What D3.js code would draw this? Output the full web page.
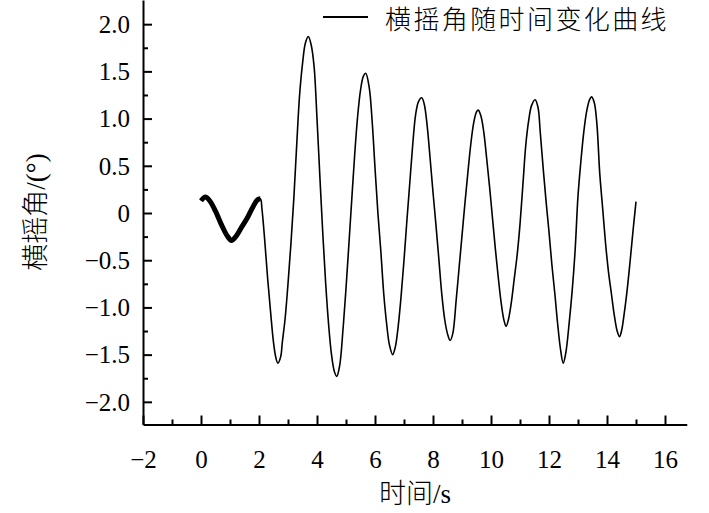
<!DOCTYPE html>
<html>
<head>
<meta charset="utf-8">
<script src="https://cdn.jsdelivr.net/npm/d3@7"></script>
<style>
  html, body { margin: 0; padding: 0; background: #fff; }
  svg { display: block; }
  .serif { font-family: "Liberation Serif", "DejaVu Serif", serif; }
  .cjk { font-family: "Liberation Serif", "DejaVu Serif", "Noto Sans CJK SC", serif; }
</style>
</head>
<body>
<svg id="chart" width="709" height="513"></svg>
<script>
// 横摇角の時系列
const timeS = [
  0, 0.15, 0.3, 0.5, 0.7, 0.9, 1.05, 1.2, 1.4, 1.6, 1.8, 1.95, 2.05,
  2.1, 2.2, 2.3, 2.4, 2.5, 2.58, 2.65, 2.75,
  2.8, 2.9, 3.0, 3.1, 3.2, 3.3, 3.4, 3.5, 3.6, 3.7, 3.8,
  3.9, 4.0, 4.1, 4.2, 4.3, 4.4, 4.5, 4.6, 4.68, 4.78,
  4.9, 5.0, 5.1, 5.2, 5.3, 5.4, 5.5, 5.6, 5.68, 5.8,
  5.9, 6.0, 6.1, 6.2, 6.3, 6.4, 6.5, 6.61, 6.7,
  6.8, 6.9, 7.0, 7.1, 7.2, 7.3, 7.4, 7.5, 7.61, 7.7,
  7.8, 7.9, 8.0, 8.1, 8.2, 8.3, 8.4, 8.5, 8.59, 8.68,
  8.8, 8.9, 9.0, 9.1, 9.2, 9.3, 9.4, 9.5, 9.56, 9.65,
  9.75, 9.85, 9.95, 10.05, 10.15, 10.25, 10.35, 10.45, 10.52, 10.6,
  10.7, 10.8, 10.9, 11.0, 11.1, 11.2, 11.3, 11.4, 11.52, 11.62,
  11.7, 11.8, 11.9, 12.0, 12.1, 12.2, 12.3, 12.4, 12.49, 12.58,
  12.7, 12.8, 12.9, 13.0, 13.1, 13.2, 13.3, 13.4, 13.47, 13.56,
  13.65, 13.75, 13.85, 13.95, 14.05, 14.15, 14.25, 14.35, 14.43, 14.5,
  14.6, 14.7, 14.8, 14.9, 15.0
];
const rollDeg = [
  0.13, 0.17, 0.13, 0.02, -0.12, -0.24, -0.29, -0.25, -0.15, -0.05, 0.07, 0.14, 0.15,
  0.05, -0.30, -0.70, -1.05, -1.37, -1.53, -1.59, -1.52,
  -1.38, -1.12, -0.75, -0.33, 0.15, 0.72, 1.25, 1.58, 1.80, 1.87, 1.78,
  1.55, 1.00, 0.38, -0.22, -0.75, -1.18, -1.50, -1.68, -1.73, -1.62,
  -1.22, -0.80, -0.33, 0.15, 0.62, 1.02, 1.30, 1.45, 1.48, 1.33,
  0.98, 0.48, 0.00, -0.40, -0.85, -1.17, -1.40, -1.50, -1.42,
  -1.20, -0.88, -0.50, -0.08, 0.32, 0.72, 1.04, 1.18, 1.22, 1.15,
  0.92, 0.58, 0.22, -0.12, -0.48, -0.85, -1.12, -1.28, -1.35, -1.28,
  -0.92, -0.58, -0.24, 0.10, 0.42, 0.72, 0.95, 1.07, 1.09, 1.03,
  0.86, 0.58, 0.28, -0.05, -0.38, -0.68, -0.95, -1.14, -1.20, -1.13,
  -0.95, -0.70, -0.45, -0.12, 0.30, 0.72, 0.98, 1.14, 1.20, 1.12,
  0.85, 0.47, 0.12, -0.20, -0.55, -0.85, -1.18, -1.45, -1.59, -1.48,
  -1.15, -0.82, -0.40, 0.18, 0.55, 0.86, 1.08, 1.20, 1.23, 1.17,
  0.95, 0.42, 0.05, -0.32, -0.62, -0.85, -1.08, -1.25, -1.31, -1.25,
  -1.05, -0.80, -0.50, -0.18, 0.12
];

// 目盛り
const xTicks = [-2, 0, 2, 4, 6, 8, 10, 12, 14, 16];
const xMinorTicks = [-1, 1, 3, 5, 7, 9, 11, 13, 15];
const yTicks = [-2.0, -1.5, -1.0, -0.5, 0, 0.5, 1.0, 1.5, 2.0];
const yMinorTicks = [-1.75, -1.25, -0.75, -0.25, 0.25, 0.75, 1.25, 1.75];

const legendLabel = '横摇角随时间变化曲线';
const xTitle = '时间/s';
const yTitle = '横摇角/(°)';

const svg = d3.select('#chart');

const x = d3.scaleLinear().domain([-2, 16.75]).range([143, 686.75]);
const y = d3.scaleLinear().domain([-2.24, 2.256]).range([424.5, 0]);

const fmtY = (v) => (v === 0 ? '0' : d3.format('.1f')(v).replace('-', '\u2212'));
const fmtX = (v) => String(v).replace('-', '\u2212');

// 軸（内向き目盛り）
const xAxis = svg.append('g')
  .attr('transform', `translate(0,${y(-2.24)})`)
  .call(d3.axisBottom(x).tickValues(xTicks).tickSizeInner(-9).tickSizeOuter(0)
    .tickPadding(26).tickFormat(fmtX));
svg.append('g')
  .attr('transform', `translate(0,${y(-2.24)})`)
  .call(d3.axisBottom(x).tickValues(xMinorTicks).tickSizeInner(-5).tickSizeOuter(0)
    .tickFormat(''))
  .call((g) => g.select('.domain').remove());

const yAxis = svg.append('g')
  .attr('transform', `translate(${x(-2)},0)`)
  .call(d3.axisLeft(y).tickValues(yTicks).tickSizeInner(-9).tickSizeOuter(0)
    .tickPadding(13).tickFormat(fmtY));
svg.append('g')
  .attr('transform', `translate(${x(-2)},0)`)
  .call(d3.axisLeft(y).tickValues(yMinorTicks).tickSizeInner(-5).tickSizeOuter(0)
    .tickFormat(''))
  .call((g) => g.select('.domain').remove());

svg.selectAll('.domain').attr('stroke', '#000').attr('stroke-width', 2);
svg.selectAll('.tick line').attr('stroke', '#000').attr('stroke-width', 2);

// d3.axis が g に sans-serif を付けるので、CSS クラスで上書き
svg.selectAll('g').attr('font-family', null);
xAxis.selectAll('.tick text')
  .attr('class', 'serif').attr('font-size', 25).attr('fill', '#000')
  .attr('dy', '0.71em');
yAxis.selectAll('.tick text')
  .attr('class', 'serif').attr('font-size', 25).attr('fill', '#000')
  .attr('dy', '0.33em');

// 曲線
const pts = timeS.map((t, i) => ({ t, v: rollDeg[i] }));
const line = d3.line()
  .x((d) => x(d.t))
  .y((d) => y(d.v))
  .curve(d3.curveCatmullRom.alpha(0.5));

svg.append('path')
  .datum(pts)
  .attr('d', line)
  .attr('fill', 'none')
  .attr('stroke', '#000')
  .attr('stroke-width', 1.6)
  .attr('stroke-linejoin', 'round');

// 最初の2秒はノイズで太く見える
svg.append('path')
  .datum(pts.filter((d) => d.t <= 2.05))
  .attr('d', line)
  .attr('fill', 'none')
  .attr('stroke', '#000')
  .attr('stroke-width', 5)
  .attr('stroke-linejoin', 'round');

// 軸タイトル
svg.append('text')
  .attr('class', 'cjk')
  .attr('x', 415).attr('y', 503)
  .attr('text-anchor', 'middle')
  .attr('font-size', 27).attr('font-weight', 300)
  .text(xTitle);

svg.append('text')
  .attr('class', 'cjk')
  .attr('transform', 'translate(45,212) rotate(-90)')
  .attr('text-anchor', 'middle')
  .attr('font-size', 27).attr('font-weight', 300)
  .text(yTitle);

// 凡例
svg.append('line')
  .attr('x1', 323).attr('x2', 368).attr('y1', 17).attr('y2', 17)
  .attr('stroke', '#000').attr('stroke-width', 2);
svg.append('text')
  .attr('x', 385).attr('y', 29)
  .style('font-family', '"Noto Sans CJK SC", sans-serif').attr('font-size', 26)
  .attr('font-weight', 300)
  .attr('letter-spacing', 2.4)
  .text(legendLabel);
</script>
</body>
</html>
